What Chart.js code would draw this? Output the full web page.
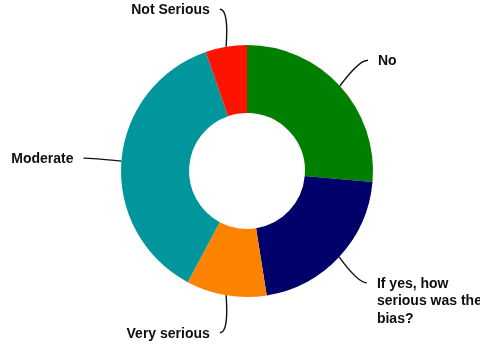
<!DOCTYPE html>
<html>
<head>
<meta charset="utf-8">
<script src="https://cdn.jsdelivr.net/npm/chart.js@4.4.0/dist/chart.umd.min.js"></script>
<style>
  html, body { margin: 0; padding: 0; background: #fff; }
  #wrap { width: 480px; height: 345px; position: relative; }
</style>
</head>
<body>
<div id="wrap"><canvas id="biasChart"></canvas></div>
<script>
const categories = ["No", "If yes, how serious was the bias?", "Very serious", "Moderate", "Not Serious"];
const labelLines = [
  ["No"],
  ["If yes, how", "serious was the", "bias?"],
  ["Very serious"],
  ["Moderate"],
  ["Not Serious"],
];
const shares = [26.4, 21.1, 10.3, 36.9, 5.3];
const sliceColors = ["#007f00", "#00006b", "#fd8200", "#00969c", "#fd1300"];

// leader lines + labels outside each slice
const outsideLabels = {
  id: "outsideLabels",
  afterDraw(chart) {
    const ctx = chart.ctx;
    const meta = chart.getDatasetMeta(0);
    ctx.save();
    ctx.font = "bold 14px 'Liberation Sans', Arial, sans-serif";
    ctx.textBaseline = "middle";
    ctx.fillStyle = "#0d0d14";
    ctx.strokeStyle = "#111";
    ctx.lineWidth = 1.4;
    meta.data.forEach((arc, i) => {
      const p = arc.getProps(["x", "y", "startAngle", "endAngle", "outerRadius"], true);
      const mid = (p.startAngle + p.endAngle) / 2;
      const cos = Math.cos(mid), sin = Math.sin(mid);
      const sx = p.x + cos * p.outerRadius;
      const sy = p.y + sin * p.outerRadius;
      const ax = p.x + cos * (p.outerRadius + 38);
      const ay = p.y + sin * (p.outerRadius + 38);
      const side = cos >= 0 ? 1 : -1;

      ctx.beginPath();
      ctx.moveTo(sx, sy);
      ctx.quadraticCurveTo(ax - side * 9, ay, ax, ay);
      ctx.stroke();

      ctx.textAlign = side > 0 ? "left" : "right";
      labelLines[i].forEach((line, j) => {
        ctx.fillText(line, ax + side * 10, ay + 1 + j * 17.5);
      });
    });
    ctx.restore();
  },
};

new Chart(document.getElementById("biasChart"), {
  type: "doughnut",
  data: {
    labels: categories,
    datasets: [
      {
        data: shares,
        backgroundColor: sliceColors,
        borderWidth: 0,
      },
    ],
  },
  options: {
    responsive: true,
    maintainAspectRatio: false,
    animation: false,
    cutout: "46%",
    layout: {
      padding: { left: 121, right: 107, top: 45, bottom: 48 },
    },
    plugins: {
      legend: { display: false },
      tooltip: { enabled: false },
    },
  },
  plugins: [outsideLabels],
});
</script>
</body>
</html>
